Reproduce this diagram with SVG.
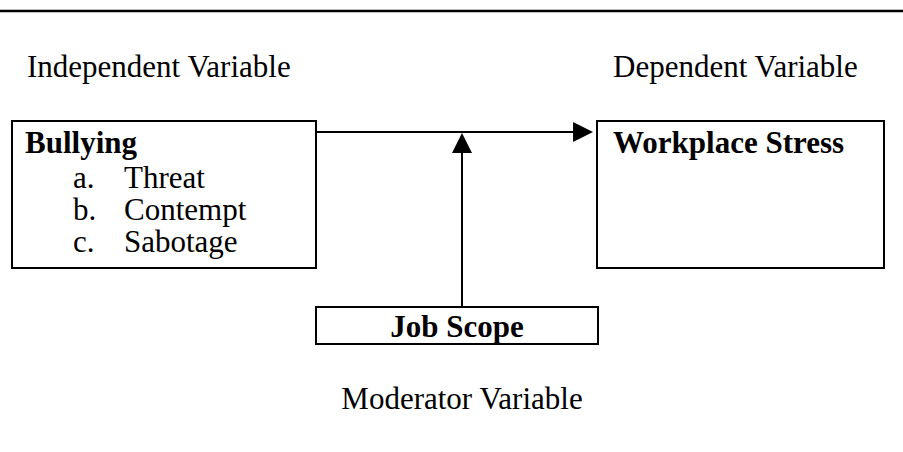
<svg xmlns="http://www.w3.org/2000/svg" width="903" height="452" viewBox="0 0 903 452">
  <style>
    .t { font-family: "Liberation Serif", "Times New Roman", serif; font-size: 31px; fill: #000; }
    .b { font-weight: bold; }
    .box { fill: #fff; stroke: #000; stroke-width: 2; }
    .conn { stroke: #000; stroke-width: 2; fill: none; }
    .head { fill: #000; }
  </style>
  <rect width="903" height="452" fill="#fff"/>
  <!-- rule across the top -->
  <line x1="0" y1="11" x2="903" y2="11" stroke="#000" stroke-width="2.5"/>

  <text class="t" x="27" y="77">Independent Variable</text>
  <text class="t" x="613" y="77">Dependent Variable</text>
  <text class="t" x="462" y="409" text-anchor="middle">Moderator Variable</text>

  <g id="connectors">
    <line class="conn" x1="316" y1="132" x2="575" y2="132"/>
    <polygon class="head" points="573,122 593,132 573,142"/>
    <line class="conn" x1="462" y1="307" x2="462" y2="150"/>
    <polygon class="head" points="452,153 462,133 472,153"/>
  </g>

  <g id="bullying">
    <rect class="box" x="12" y="121" width="304" height="147"/>
    <text class="t b" x="25" y="153">Bullying</text>
    <text class="t" x="73" y="188">a.</text>
    <text class="t" x="124" y="188">Threat</text>
    <text class="t" x="73" y="220">b.</text>
    <text class="t" x="124" y="220">Contempt</text>
    <text class="t" x="73" y="252">c.</text>
    <text class="t" x="124" y="252">Sabotage</text>
  </g>

  <g id="workplace-stress">
    <rect class="box" x="597" y="121" width="287" height="147"/>
    <text class="t b" x="613" y="153">Workplace Stress</text>
  </g>

  <g id="job-scope">
    <rect class="box" x="316" y="307" width="282" height="37"/>
    <text class="t b" x="457" y="337" text-anchor="middle">Job Scope</text>
  </g>
</svg>
